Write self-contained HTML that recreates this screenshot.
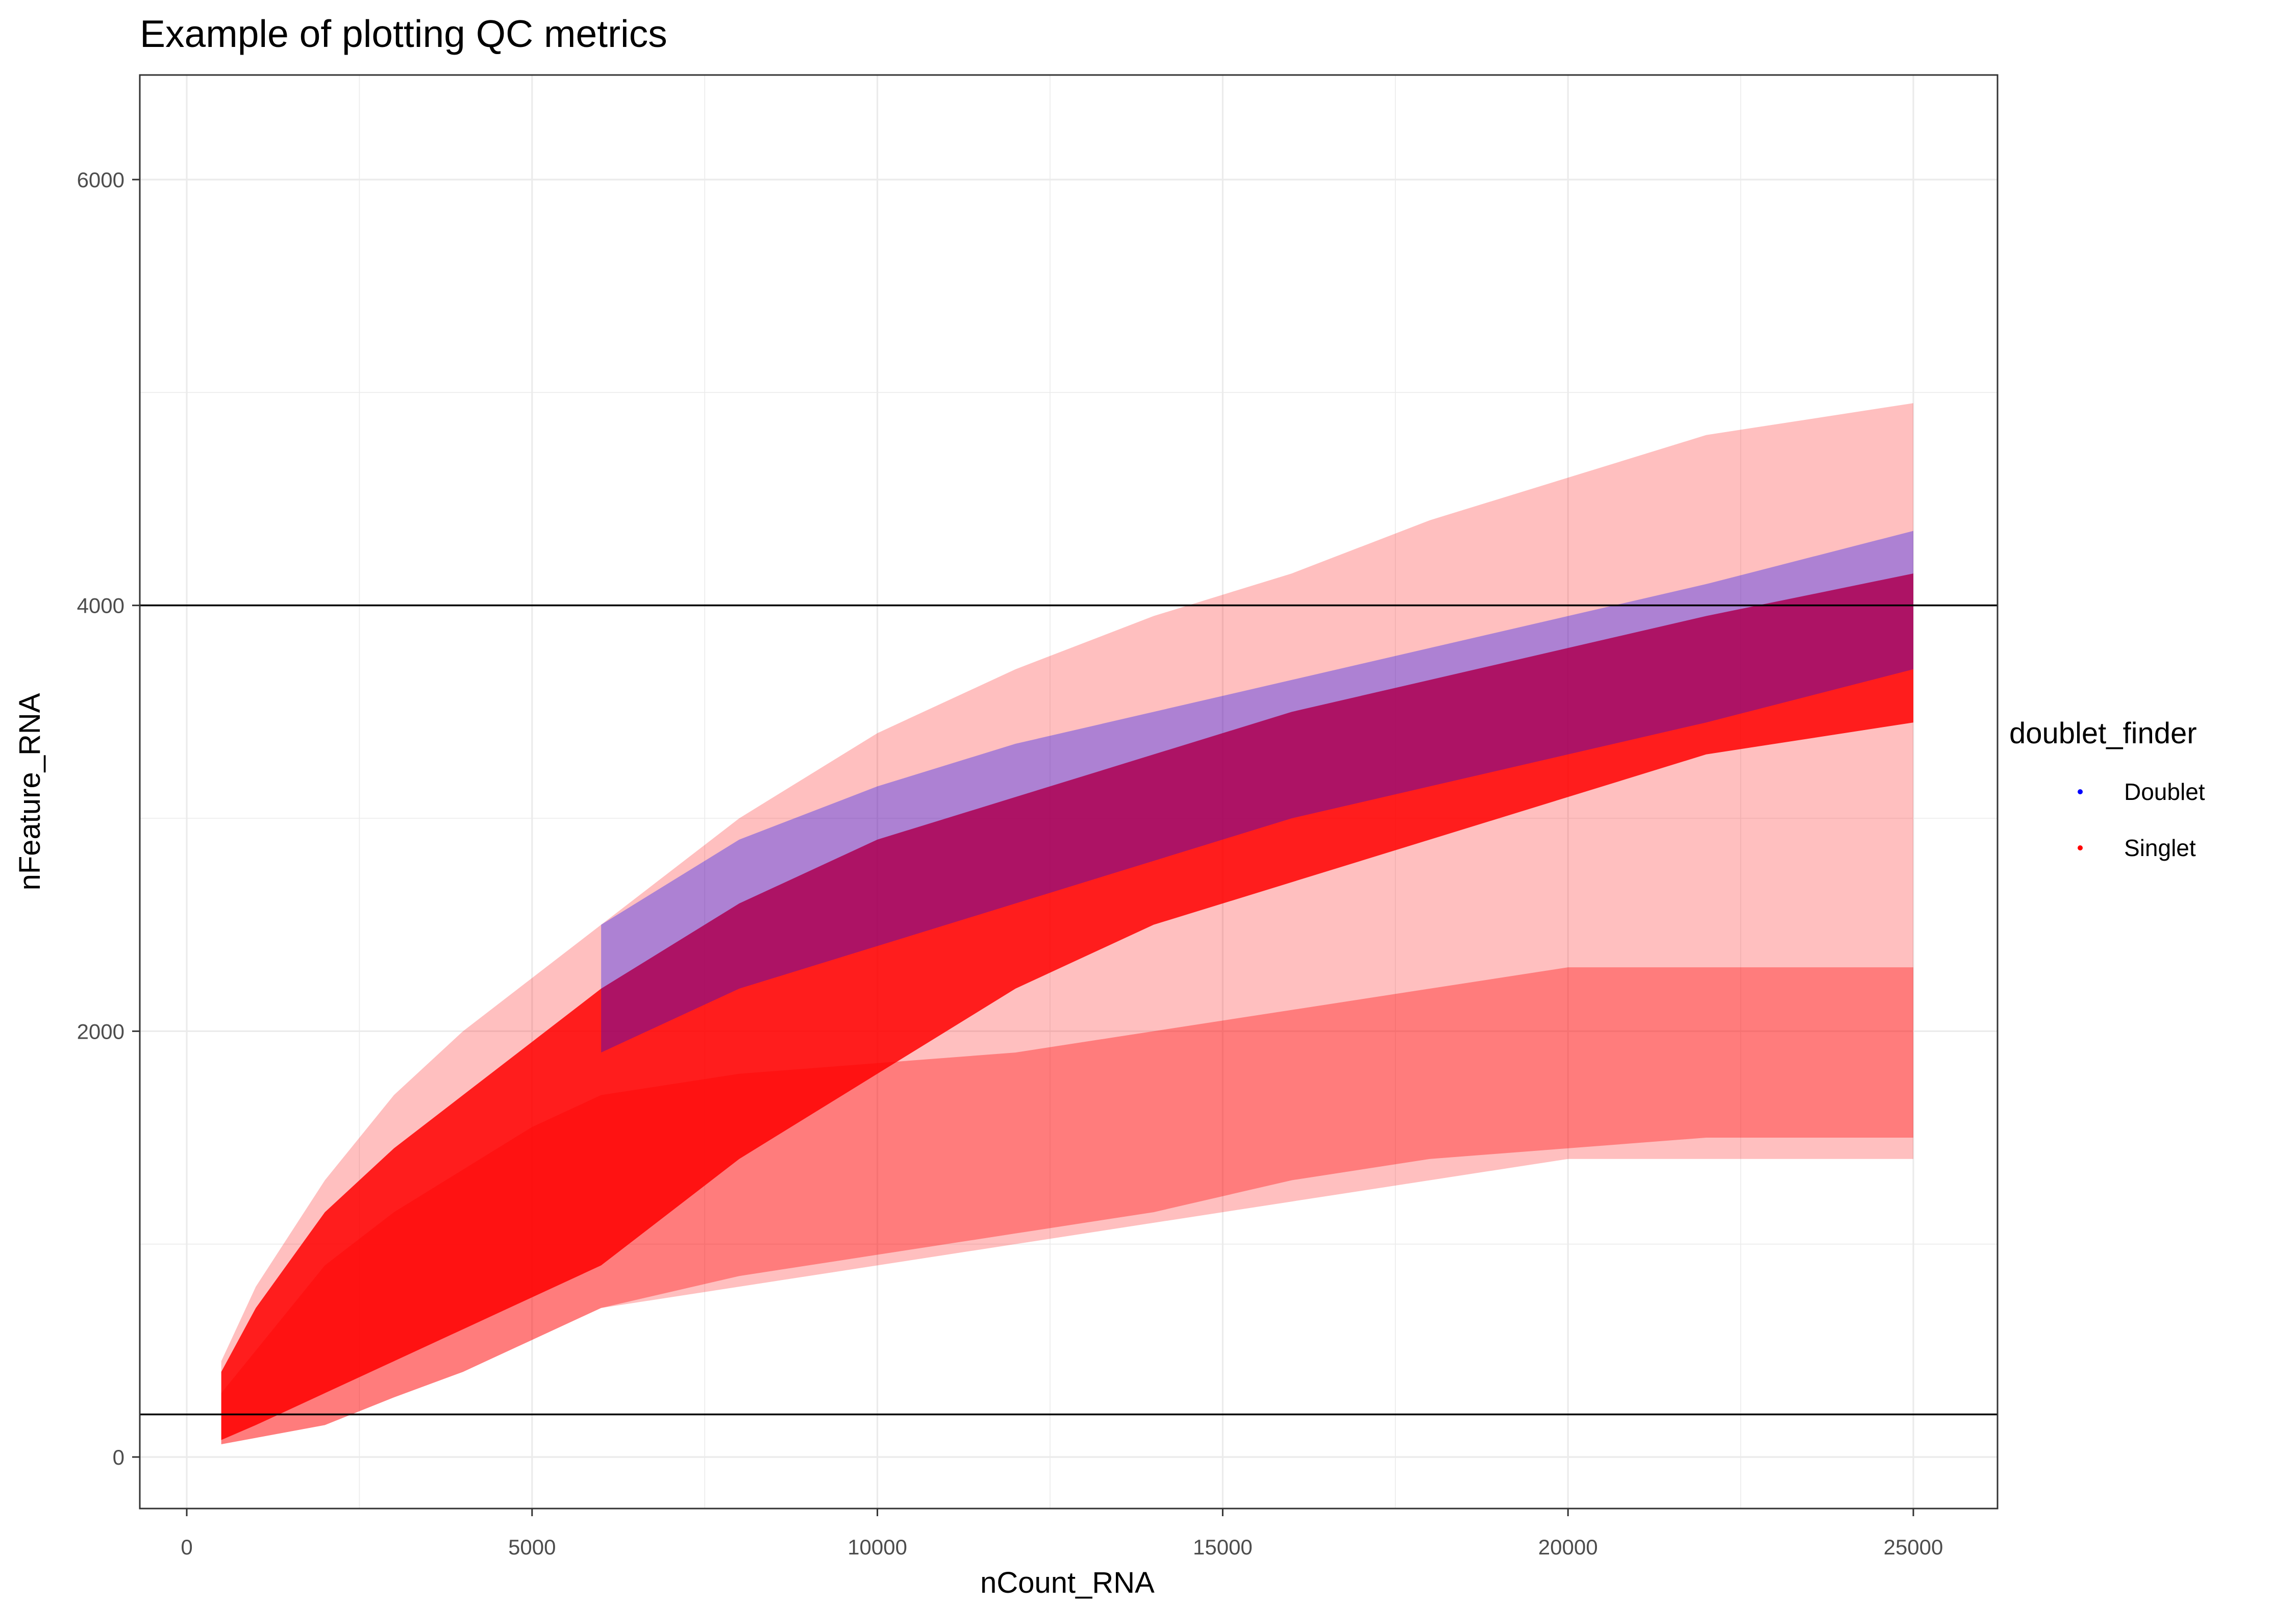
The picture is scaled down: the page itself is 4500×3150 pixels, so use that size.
<!DOCTYPE html>
<html><head><meta charset="utf-8"><style>
html,body{margin:0;padding:0;background:#fff;}
svg{display:block;font-family:"Liberation Sans",sans-serif;}
</style></head><body>
<svg id="chart" width="4500" height="3150" viewBox="0 0 4500 3150">
<text x="274" y="92" font-size="75" fill="#000">Example of plotting QC metrics</text>
<g id="grid"></g>
<g id="marks"></g>
<g id="hlines"></g>
<rect x="274" y="147" width="3641" height="2810" fill="none" stroke="#333" stroke-width="3"/>
<g id="ticks"></g>
<text x="2092" y="3122" font-size="58" text-anchor="middle">nCount_RNA</text>
<text x="78" y="1552" font-size="58" text-anchor="middle" transform="rotate(-90 78 1552)">nFeature_RNA</text>
<g>
<text x="3938" y="1457" font-size="58">doublet_finder</text>
<g><circle cx="4077" cy="1552" r="5" fill="#0000ff"/><text x="4163" y="1568" font-size="46">Doublet</text></g>
<g><circle cx="4077" cy="1662" r="5" fill="#ff0000"/><text x="4163" y="1678" font-size="46">Singlet</text></g>
</g>
</svg>
<script>
const xTicks=[0,5000,10000,15000,20000,25000];
const yTicks=[0,2000,4000,6000];
const xMinor=[2500,7500,12500,17500,22500];
const yMinor=[1000,3000,5000];
const hLineValues=[4000,200];
const bandX=[500,1000,2000,3000,4000,5000,6000,8000,10000,12000,14000,16000,18000,20000,22000,25000];
const coreLow=[80,150,300,450,600,750,900,1400,1800,2200,2500,2700,2900,3100,3300,3450];
const coreHigh=[400,700,1150,1450,1700,1950,2200,2600,2900,3100,3300,3500,3650,3800,3950,4150];
const sparseLow=[60,90,150,280,400,550,700,800,900,1000,1100,1200,1300,1400,1400,1400];
const sparseHigh=[450,800,1300,1700,2000,2250,2500,3000,3400,3700,3950,4150,4400,4600,4800,4950];
const cloudLow=[60,90,150,280,400,550,700,850,950,1050,1150,1300,1400,1450,1500,1500];
const cloudHigh=[300,500,900,1150,1350,1550,1700,1800,1850,1900,2000,2100,2200,2300,2300,2300];
const blueX=[6000,8000,10000,12000,14000,16000,18000,20000,22000,25000];
const blueLow=[1900,2200,2400,2600,2800,3000,3150,3300,3450,3700];
const blueHigh=[2500,2900,3150,3350,3500,3650,3800,3950,4100,4350];
const NS="http://www.w3.org/2000/svg";
const X=v=>366+(v/25000)*(3750-366);
const Y=v=>2856-(v/6000)*(2856-352);
function mk(tag,attrs,parent){const e=document.createElementNS(NS,tag);for(const k in attrs)e.setAttribute(k,attrs[k]);parent.appendChild(e);return e;}
const grid=document.getElementById('grid');
xMinor.forEach(v=>{const l=mk('line',{x1:X(v),x2:X(v),y1:147,y2:2957,stroke:'#ebebeb','stroke-width':1.6},grid);});
yMinor.forEach(v=>{const l=mk('line',{x1:274,x2:3915,y1:Y(v),y2:Y(v),stroke:'#ebebeb','stroke-width':1.6},grid);});
xTicks.forEach(v=>{const l=mk('line',{x1:X(v),x2:X(v),y1:147,y2:2957,stroke:'#ebebeb','stroke-width':3.2},grid);});
yTicks.forEach(v=>{const l=mk('line',{x1:274,x2:3915,y1:Y(v),y2:Y(v),stroke:'#ebebeb','stroke-width':3.2},grid);});
const marks=document.getElementById('marks');
function band(xs,lo,hi,fill,op,name){
 let d='M'+xs.map((x,i)=>X(x)+','+Y(hi[i])).join('L');
 d+='L'+xs.map((x,i)=>X(x)+','+Y(lo[i])).reverse().join('L')+'Z';
 const p=mk('path',{d:d,fill:fill,'fill-opacity':op},marks);
 
 
}
band(bandX,sparseLow,sparseHigh,'#ff0000',0.25,'singlet-sparse-region');
band(bandX,cloudLow,cloudHigh,'#ff0000',0.35,'singlet-lower-cloud');
band(bandX,coreLow,coreHigh,'#ff0000',0.85,'singlet-dense-core');
band(blueX,blueLow,blueHigh,'#0000ff',0.32,'doublet-band');
const hl=document.getElementById('hlines');
hLineValues.forEach(v=>{const l=mk('line',{x1:274,x2:3915,y1:Y(v),y2:Y(v),stroke:'#000','stroke-width':3.5},hl);});
const tk=document.getElementById('ticks');
xTicks.forEach(v=>{
 const l=mk('line',{x1:X(v),x2:X(v),y1:2957,y2:2972,stroke:'#333','stroke-width':3},tk);
 
 const t=mk('text',{x:X(v),y:3047,'font-size':42,'text-anchor':'middle',fill:'#4d4d4d'},tk);t.textContent=v;
 
});
yTicks.forEach(v=>{
 const l=mk('line',{x1:259,x2:274,y1:Y(v),y2:Y(v),stroke:'#333','stroke-width':3},tk);
 
 const t=mk('text',{x:244,y:Y(v)+15,'font-size':42,'text-anchor':'end',fill:'#4d4d4d'},tk);t.textContent=v;
 
});
</script>
</body></html>
